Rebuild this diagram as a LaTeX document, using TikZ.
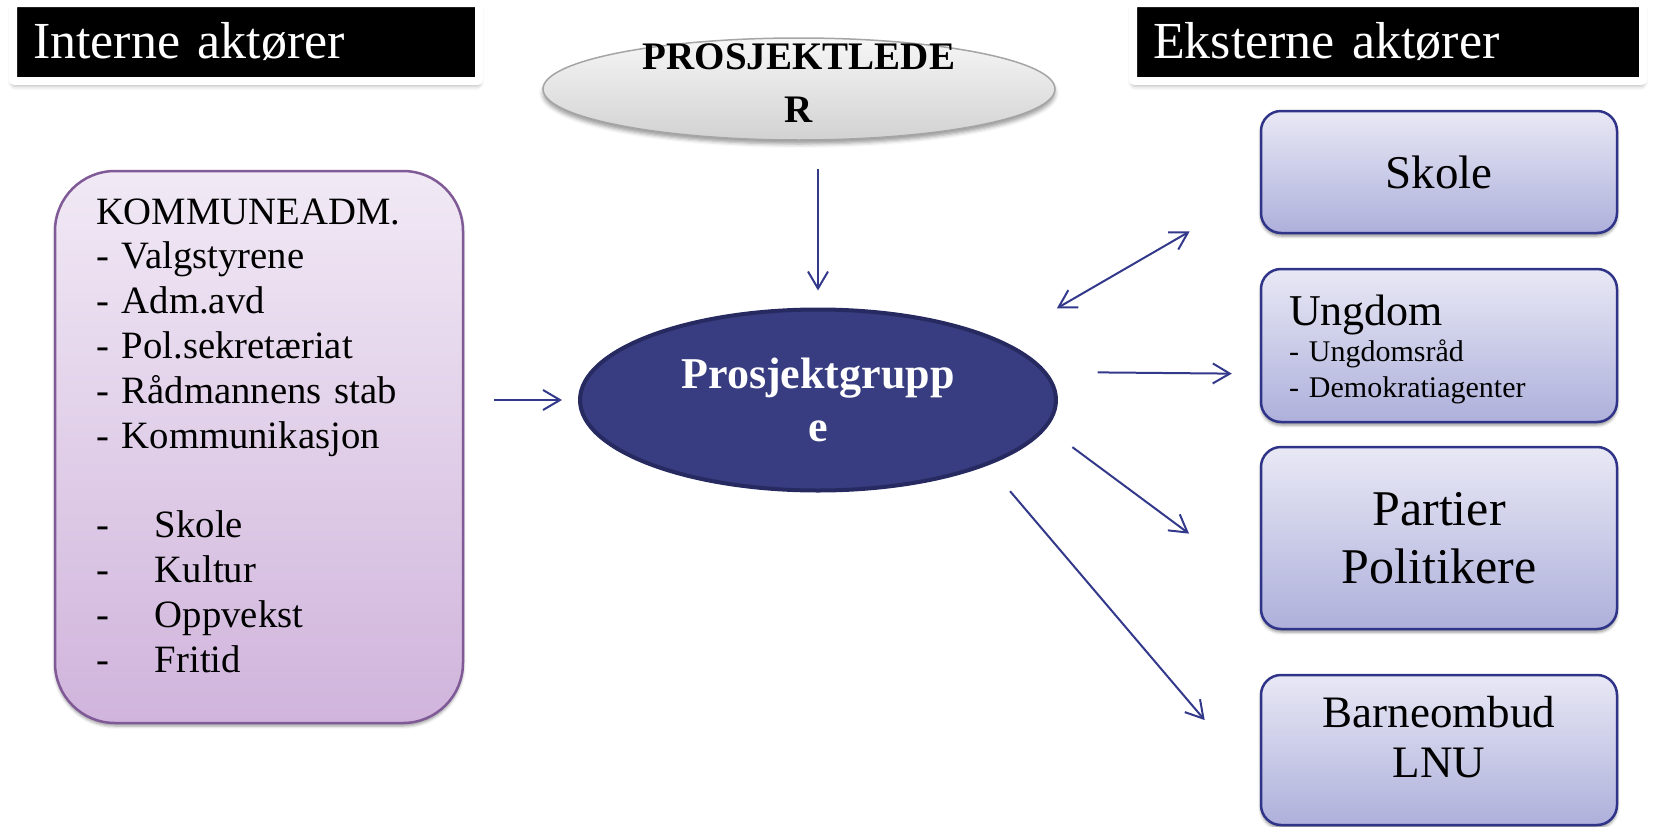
\documentclass[tikz,border=0pt]{standalone}
\usepackage{fontspec}
\setmainfont{Liberation Serif}
\usetikzlibrary{arrows.meta,shapes.geometric,shadows.blur,positioning}

\definecolor{arrowblue}{RGB}{51,57,138}
\definecolor{navyfill}{RGB}{56,60,128}
\definecolor{navyline}{RGB}{38,42,96}
\definecolor{boxline}{RGB}{47,52,136}
\definecolor{boxtop}{RGB}{232,232,245}
\definecolor{boxbottom}{RGB}{174,176,219}
\definecolor{komtop}{RGB}{241,233,245}
\definecolor{kombottom}{RGB}{208,180,220}
\definecolor{komline}{RGB}{128,90,150}
\definecolor{pltop}{RGB}{246,246,246}
\definecolor{plbottom}{RGB}{210,210,210}
\definecolor{plline}{RGB}{165,165,165}

\newcommand{\fsz}[2]{\fontsize{#1}{#2}\selectfont}

\begin{document}
\begin{tikzpicture}[
	x = 1pt, y = -1pt, % one unit per pixel, y downwards
	> = {Straight Barb[length=17pt,width=20pt]}, % open arrow head
	line width = 2pt, % line style
	color = arrowblue
	]
	
	\tikzstyle{headbox}=[
	draw = white, line width = 8pt,
	fill = black, text = white,
	rounded corners = 2pt,
	minimum height = 78pt, inner xsep = 20pt,
	align = left, font = \fsz{52}{60},
	blur shadow = {shadow xshift=0pt, shadow yshift=-4pt, shadow opacity=40, shadow blur radius=5pt}
	]
	\tikzstyle{extbox}=[
	draw = boxline, line width = 2.5pt,
	top color = boxtop, bottom color = boxbottom,
	rounded corners = 20pt, minimum width = 356pt,
	align = center, text = black,
	blur shadow = {shadow xshift=0pt, shadow yshift=-3pt, shadow opacity=45, shadow blur radius=3pt}
	]
	
	\useasboundingbox (0,0) rectangle (1658,827);
	
	\node[headbox, minimum width=466pt, text width=426pt] (qInt) at (246,42) {Interne aktører};
	\node[headbox, minimum width=510pt, text width=470pt] (qEks) at (1388,42) {Eksterne aktører};
	
	\node[ellipse, draw=plline, line width=1.5pt, top color=pltop, bottom color=plbottom,
	minimum width=512pt, minimum height=102pt, inner sep=0pt,
	blur shadow={shadow xshift=0pt, shadow yshift=-4pt, shadow opacity=40, shadow blur radius=4pt},
	label={[name=qPLtext, align=center, text=black, font=\bfseries\fsz{39}{53}, yshift=5.5pt]center:{PROSJEKTLEDE\\R}}]
	(qPL) at (799,89) {};
	
	\node[ellipse, draw=navyline, line width=4pt, fill=navyfill, text=white,
	minimum width=476pt, minimum height=181pt, inner sep=0pt, align=center,
	font=\bfseries\fsz{44}{53}]
	(qPG) at (818,400) {Prosjektgrupp\\e};
	
	\node[draw=komline, line width=2.5pt, top color=komtop, bottom color=kombottom,
	rounded corners=60pt, minimum width=408pt, minimum height=552pt,
	text width=326pt, inner xsep=41pt, text depth=471.6pt, align=left, text=black,
	font=\fsz{38.7}{44.8},
	blur shadow={shadow xshift=0pt, shadow yshift=-3pt, shadow opacity=40, shadow blur radius=3pt}]
	(qKom) at (259,447) {KOMMUNEADM.\\- Valgstyrene\\- Adm.avd\\- Pol.sekretæriat\\- Rådmannens stab\\- Kommunikasjon\\[44.8pt]
		\makebox[59pt][l]{-}Skole\\\makebox[59pt][l]{-}Kultur\\\makebox[59pt][l]{-}Oppvekst\\\makebox[59pt][l]{-}Fritid};
	
	\node[extbox, minimum height=122pt, font=\fsz{47}{56}] (qSkole) at (1439,172) {Skole};
	\node[extbox, minimum height=153pt, text width=300pt, text height=39pt, align=left, font=\fsz{30}{36}] (qUngdom) at (1439,345.5)
	{{\fsz{44}{36}Ungdom}\\- Ungdomsråd\\- Demokratiagenter};
	\node[extbox, minimum height=182pt, font=\fsz{50}{58}] (qPartier) at (1439,538) {Partier\\Politikere};
	\node[extbox, minimum height=150pt, text depth=27pt, font=\fsz{45}{50}] (qBarne) at (1439,750) {Barneombud\\LNU};
	
	\path[->]
	(qPL.south -| qPG.north) edge [shorten <=28pt, shorten >=17pt] (qPG.north)
	(qKom.east |- qPG.west) edge [shorten <=30pt, shorten >=16pt] (qPG.west)
	(qPG.7) edge [shorten <=51pt, shorten >=28pt] (qUngdom.189.5)
	(qPG.-7) edge [shorten <=32pt, shorten >=88pt] (qPartier.195.2)
	(qPG.-21.3) edge [shorten <=34pt, shorten >=85pt] (qBarne.191.2);
	
	\path[<->]
	(qPG.18.6) edge [shorten <=64pt, shorten >=81pt] (qSkole.186.5);
	
\end{tikzpicture}
\end{document}
